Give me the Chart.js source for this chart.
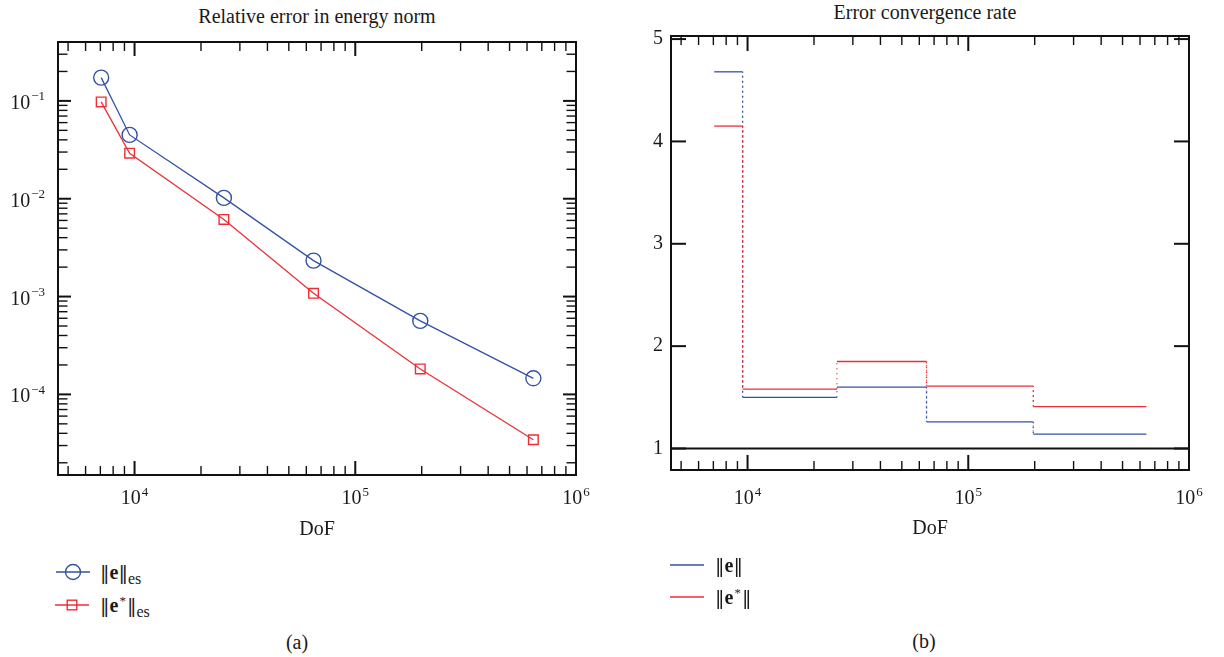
<!DOCTYPE html>
<html lang="en">
<head>
<meta charset="UTF-8" />
<title>Relative error and convergence rate</title>
<script src="https://cdn.jsdelivr.net/npm/chart.js"></script>
<style>
  body { margin: 0; background: #fff; font-family: "Liberation Serif", "DejaVu Serif", serif; color: #1a1a1a; }
  #page { position: relative; width: 1224px; height: 657px; overflow: hidden; }
  .chartBox { position: absolute; top: 0; height: 560px; }
  .txt { position: absolute; font-size: 20px; line-height: 24px; white-space: nowrap; transform: translateX(-50%); }
  .leg { position: absolute; height: 24px; line-height: 24px; font-size: 20px; white-space: nowrap; }
  .leg svg { vertical-align: top; }
  .leg .dbl { font-family: "DejaVu Serif", serif; font-size: 19px; }
  .leg .sub { font-size: 16px; position: relative; top: 5px; }
  .leg .sup { font-size: 13px; position: relative; top: -7px; margin: 0 1px; }
</style>
</head>
<body>
<div id="page">
  <div class="txt" style="left:317px; top:4px;">Relative error in energy norm</div>
  <div class="txt" style="left:925px; top:0px;">Error convergence rate</div>
  <div class="chartBox" style="left:0; width:620px;"><canvas id="grafErro"></canvas></div>
  <div class="chartBox" style="left:620px; width:604px;"><canvas id="grafTaxa"></canvas></div>
  <div id="legErro"></div>
  <div id="legTaxa"></div>
  <div class="txt" style="left:297px; top:630px;">(a)</div>
  <div class="txt" style="left:924px; top:629px;">(b)</div>
</div>

<script>
  // degrees of freedom of each refinement step
  const dof = [7060, 9500, 25400, 64700, 197000, 641000];
  // relative error in energy norm
  const errE = [0.173, 0.0449, 0.0102, 0.00233, 0.000564, 0.000146];
  const errEstar = [0.0977, 0.0292, 0.00614, 0.00108, 0.000182, 0.0000344];
  // convergence rate between consecutive steps
  const rateE = [4.68, 1.50, 1.60, 1.26, 1.14];
  const rateEstar = [4.15, 1.58, 1.85, 1.61, 1.41];
  const refRate = 1;

  const xTicks = [1e4, 1e5, 1e6];
  const yTicksErr = [1e-4, 1e-3, 1e-2, 1e-1];
  const yTicksRate = [1, 2, 3, 4, 5];

  const azul = '#3352a4';
  const vermelho = '#ec2f37';
  const familia = '"Liberation Serif", "DejaVu Serif", serif';
  const fonteEixo = { family: familia, size: 20 };

  function passosLog(min, max) {
    const out = [];
    for (let d = Math.floor(Math.log10(min)); d <= Math.ceil(Math.log10(max)); d++) {
      for (let k = 1; k <= 9; k++) {
        const v = k * Math.pow(10, d);
        if (v >= min * 0.9999 && v <= max * 1.0001) out.push({ v, major: k === 1 });
      }
    }
    return out;
  }

  // "10" with a raised exponent, as real text on the canvas
  function potencia(ctx, v, x, y, alinhar) {
    const e = String(Math.round(Math.log10(v))).replace('-', '\u2212');
    ctx.font = '20px ' + familia;
    const w1 = ctx.measureText('10').width;
    ctx.font = '13px ' + familia;
    const w2 = ctx.measureText(e).width + 1;
    const x0 = alinhar === 'right' ? x - w1 - w2 : x - (w1 + w2) / 2;
    ctx.textAlign = 'left';
    ctx.textBaseline = 'alphabetic';
    ctx.fillStyle = '#1a1a1a';
    ctx.font = '20px ' + familia;
    ctx.fillText('10', x0, y);
    ctx.font = '13px ' + familia;
    ctx.fillText(e, x0 + w1 + 1, y - 8.5);
  }

  // frame with inward ticks on all four sides, plus the power-of-ten labels
  const molduraEixos = {
    id: 'molduraEixos',
    afterDraw(chart, args, o) {
      const { ctx, chartArea: a } = chart;
      const xs = chart.scales.x, ys = chart.scales.y;
      const traco = (x1, y1, x2, y2) => { ctx.beginPath(); ctx.moveTo(x1, y1); ctx.lineTo(x2, y2); ctx.stroke(); };
      ctx.save();
      ctx.strokeStyle = '#111';

      passosLog(xs.min, xs.max).forEach(t => {
        const px = xs.getPixelForValue(t.v);
        const len = t.major ? o.xMajor : o.xMinor;
        ctx.lineWidth = t.major ? 2 : 1.4;
        traco(px, a.bottom, px, a.bottom - len);
        traco(px, a.top, px, a.top + len);
      });

      const yt = o.yLog ? passosLog(ys.min, ys.max) : ys.ticks.map(t => ({ v: t.value, major: true }));
      yt.forEach(t => {
        const py = ys.getPixelForValue(t.v);
        const len = t.major ? o.yMajor : o.yMinor;
        ctx.lineWidth = t.major ? 2 : 1.4;
        traco(a.left, py, a.left + len, py);
        traco(a.right, py, a.right - len, py);
      });

      if (o.refLine != null) {
        ctx.lineWidth = 2;
        const py = ys.getPixelForValue(o.refLine);
        traco(a.left, py, a.right, py);
      }

      ctx.lineWidth = 2;
      ctx.strokeRect(a.left, a.top, a.right - a.left, a.bottom - a.top);

      xs.ticks.forEach(t => potencia(ctx, t.value, xs.getPixelForValue(t.value), a.bottom + o.xLabelGap, 'center'));
      if (o.yLog) ys.ticks.forEach(t => potencia(ctx, t.value, a.left - 13, ys.getPixelForValue(t.value) + 8, 'right'));
      ctx.restore();
    }
  };

  function eixoX(altura, padTitulo) {
    return {
      type: 'logarithmic', min: 4500, max: 1e6,
      afterBuildTicks: s => { s.ticks = xTicks.map(v => ({ value: v })); },
      afterFit: s => { s.height = altura; },
      grid: { display: false, drawTicks: false },
      border: { display: false },
      ticks: { display: false },
      title: { display: true, text: 'DoF', color: '#1a1a1a', font: fonteEixo, padding: { top: 0, bottom: padTitulo } }
    };
  }

  const pontos = (xs, ys) => xs.map((x, i) => ({ x, y: ys[i] }));

  new Chart(document.getElementById('grafErro'), {
    type: 'line',
    data: {
      datasets: [
        { label: '‖e‖es', data: pontos(dof, errE), borderColor: azul, borderWidth: 1.3,
          pointStyle: 'circle', pointRadius: 7.5, pointBorderWidth: 1.4, pointBorderColor: azul, pointBackgroundColor: 'transparent' },
        { label: '‖e*‖es', data: pontos(dof, errEstar), borderColor: vermelho, borderWidth: 1.3,
          pointStyle: 'rect', pointRadius: 6.8, pointBorderWidth: 1.4, pointBorderColor: vermelho, pointBackgroundColor: 'transparent' }
      ]
    },
    options: {
      responsive: true, maintainAspectRatio: false, animation: false,
      layout: { padding: { top: 42, right: 44, left: 0, bottom: 15 } },
      plugins: {
        legend: { display: false }, tooltip: { enabled: false },
        molduraEixos: { xMajor: 14, xMinor: 9, yMajor: 13, yMinor: 9.5, yLog: true, refLine: null, xLabelGap: 29 }
      },
      scales: {
        x: eixoX(70, 3),
        y: {
          type: 'logarithmic', min: 1.5e-5, max: 0.4,
          afterBuildTicks: s => { s.ticks = yTicksErr.map(v => ({ value: v })); },
          afterFit: s => { s.width = 58; },
          grid: { display: false, drawTicks: false },
          border: { display: false },
          ticks: { display: false }
        }
      }
    },
    plugins: [molduraEixos]
  });

  // step curve: flat over each interval, vertical jumps between them
  function degraus(xs, taxas) {
    const out = [];
    taxas.forEach((r, i) => { out.push({ x: xs[i], y: r }); out.push({ x: xs[i + 1], y: r }); });
    return out;
  }
  const pontilhado = { borderDash: c => c.p0.parsed.x === c.p1.parsed.x ? [1, 4] : undefined };

  new Chart(document.getElementById('grafTaxa'), {
    type: 'line',
    data: {
      datasets: [
        { label: '‖e*‖', data: degraus(dof, rateEstar), borderColor: vermelho, borderWidth: 1.3, pointRadius: 0, segment: pontilhado },
        { label: '‖e‖', data: degraus(dof, rateE), borderColor: azul, borderWidth: 1.3, pointRadius: 0, segment: pontilhado }
      ]
    },
    options: {
      responsive: true, maintainAspectRatio: false, animation: false,
      layout: { padding: { top: 36, right: 35, left: 0, bottom: 15 } },
      plugins: {
        legend: { display: false }, tooltip: { enabled: false },
        molduraEixos: { xMajor: 15, xMinor: 9, yMajor: 15, yMinor: 0, yLog: false, refLine: refRate, xLabelGap: 34 }
      },
      scales: {
        x: eixoX(75, 4),
        y: {
          type: 'linear', min: 0.79, max: 5.03,
          afterBuildTicks: s => { s.ticks = yTicksRate.map(v => ({ value: v })); },
          afterFit: s => { s.width = 51; },
          grid: { display: false, drawTicks: false },
          border: { display: false },
          ticks: { autoSkip: false, padding: 8, color: '#1a1a1a', font: fonteEixo }
        }
      }
    },
    plugins: [molduraEixos]
  });

  // legends in HTML so the bold e and the subscripts stay real text
  function linhaLegenda(esq, topo, marcador, cor, texto, largura, margem) {
    let m = '';
    if (marcador === 'circle') m = `<circle cx="${largura / 2}" cy="12" r="7.5" fill="none" stroke="${cor}" stroke-width="1.4"/>`;
    if (marcador === 'rect') m = `<rect x="${largura / 2 - 4.8}" y="7.2" width="9.6" height="9.6" fill="none" stroke="${cor}" stroke-width="1.4"/>`;
    return `<div class="leg" style="left:${esq}px; top:${topo}px;">` +
      `<svg width="${largura}" height="24" style="margin-right:${margem}px"><line x1="0" y1="12" x2="${largura}" y2="12" stroke="${cor}" stroke-width="1.3"/>${m}</svg>` +
      `${texto}</div>`;
  }
  const bar = '<span class="dbl">‖</span>';
  document.getElementById('legErro').innerHTML =
    linhaLegenda(56, 560, 'circle', azul, `${bar}<b>e</b>${bar}<span class="sub">es</span>`, 34, 10) +
    linhaLegenda(55, 593, 'rect', vermelho, `${bar}<b>e</b><span class="sup">*</span>${bar}<span class="sub">es</span>`, 34, 11);
  document.getElementById('legTaxa').innerHTML =
    linhaLegenda(670, 553, null, azul, `${bar}<b>e</b>${bar}`, 34, 11) +
    linhaLegenda(670, 585, null, vermelho, `${bar}<b>e</b><span class="sup">*</span>${bar}`, 34, 11);
</script>
</body>
</html>
